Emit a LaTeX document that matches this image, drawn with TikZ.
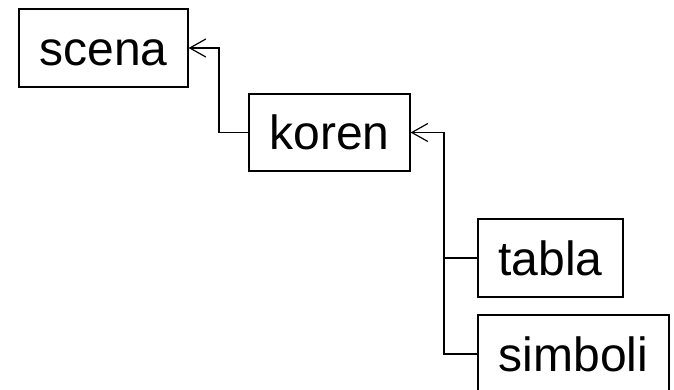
\documentclass[tikz,border=0pt]{standalone}
\usepackage{fontspec}
\setmainfont{Liberation Sans}
\usetikzlibrary{arrows.meta}
\begin{document}
\begin{tikzpicture}[x=1pt,y=-1pt,
  box/.style={draw,line width=1.2pt,inner sep=0pt,minimum height=78pt,
    text height=34pt,text depth=0pt,
    font=\fontsize{48}{56}\selectfont},
  link/.style={line width=1.2pt},
  arr/.style={link,-{Straight Barb[length=16pt,width=18pt,line width=1.2pt]}}]
\useasboundingbox (0,0) rectangle (674,389);
\node[box,minimum width=169pt] (scena) at (103.5,48) {scena};
\node[box,minimum width=161pt,minimum height=77pt] (koren) at (329.5,132.5) {koren};
\node[box,minimum width=145pt] (tabla) at (550.5,258) {tabla};
\node[box,minimum width=191pt] (simboli) at (573.5,354) {simboli};
\coordinate (j1) at (219,0);
\coordinate (j2) at (444,0);
\draw[arr] (koren.west) -| (j1 |- scena.east) -- (scena.east);
\draw[arr] (tabla.west) -| (j2 |- koren.east) -- (koren.east);
\draw[link] (simboli.west) -| (j2 |- tabla.west);
\end{tikzpicture}
\end{document}
